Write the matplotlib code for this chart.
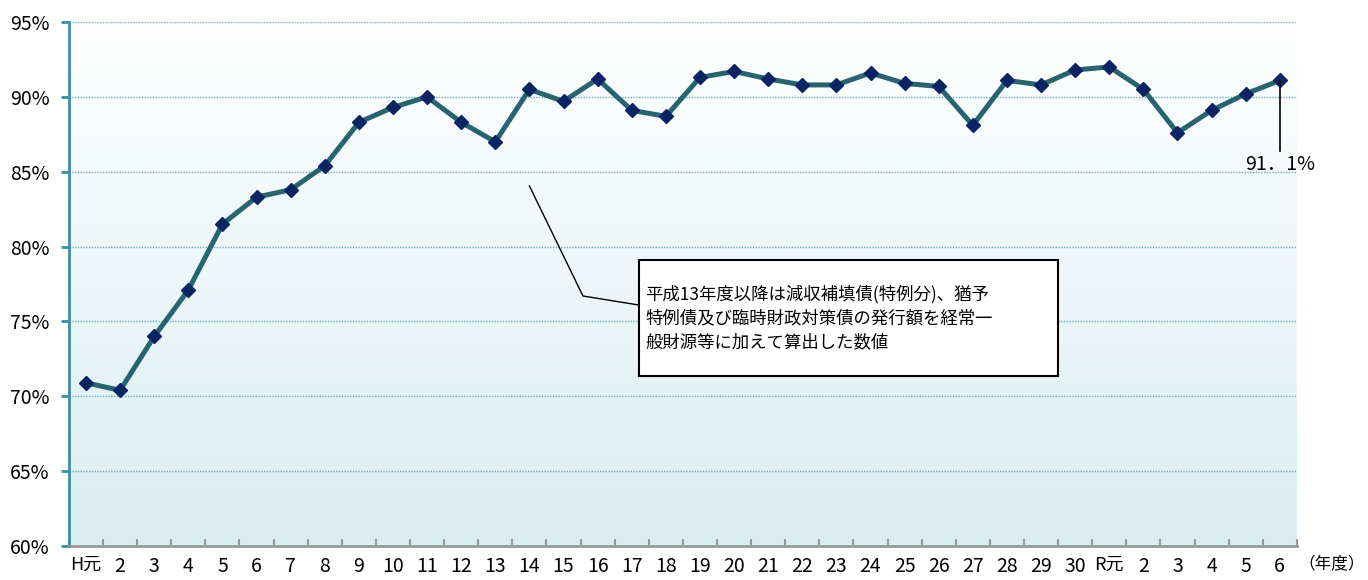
import numpy as np
import matplotlib
matplotlib.use("Agg")
import matplotlib.pyplot as plt
import matplotlib.patches as mpatches
from matplotlib.colors import LinearSegmentedColormap

plt.rcParams["font.family"] = ["Noto Sans CJK JP", "DejaVu Sans"]

# ── data ──────────────────────────────────────────────────────────────────────
LABELS = ["H元"] + [str(i) for i in range(2, 31)] + ["R元"] + [str(i) for i in range(2, 7)]
VALUES = [70.9, 70.4, 74.0, 77.1, 81.5, 83.3, 83.8, 85.4, 88.3, 89.3,
          90.0, 88.3, 87.0, 90.5, 89.7, 91.2, 89.1, 88.7, 91.3, 91.7,
          91.2, 90.8, 90.8, 91.6, 90.9, 90.7, 88.1, 91.1, 90.8, 91.8,
          92.0, 90.5, 87.6, 89.1, 90.2, 91.1]
YTICKS = [60, 65, 70, 75, 80, 85, 90, 95]
NOTE = ("平成13年度以降は減収補填債(特例分)、猶予\n"
        "特例債及び臨時財政対策債の発行額を経常一\n"
        "般財源等に加えて算出した数値")

LINE_C = "#286470"
MARK_C = "#0B2464"
AXIS_C = "#3A8FA3"
GRID_C = "#6AB3C2"

fig = plt.figure(figsize=(13.68, 5.8), dpi=100)
ax = fig.add_axes([0.0504, 0.0586, 0.8976, 0.9034])

x = np.arange(len(VALUES))
ax.set_xlim(-0.5, len(VALUES) - 0.5)
ax.set_ylim(60, 95)

# gradient background: white at top, pale blue at bottom
cmap = LinearSegmentedColormap.from_list("bg", ["#FFFFFF", "#DAEDF2"])
grad = np.linspace(0, 1, 256).reshape(-1, 1)
ax.imshow(grad, cmap=cmap, aspect="auto", origin="upper",
          extent=[-0.5, len(VALUES) - 0.5, 60, 95], zorder=0)

for yv in YTICKS[1:]:
    ax.axhline(yv, color=GRID_C, lw=1.0, ls=(0, (1, 1)), zorder=1)

ax.plot(x, VALUES, color=LINE_C, lw=3.6, zorder=3)
ax.plot(x, VALUES, ls="none", marker="D", ms=7.5, color=MARK_C, zorder=4)

# spines / ticks
for s in ["top", "right"]:
    ax.spines[s].set_visible(False)
ax.spines["left"].set_color(AXIS_C)
ax.spines["left"].set_linewidth(2)
ax.spines["bottom"].set_color("#999999")
ax.spines["bottom"].set_linewidth(2)

ax.set_yticks(YTICKS)
ax.set_yticklabels([f"{v}%" for v in YTICKS], fontsize=14)
ax.tick_params(axis="y", length=6, width=2, color=AXIS_C, pad=8)

ax.set_xticks(np.arange(len(VALUES) + 1) - 0.5)
ax.set_xticklabels([])
ax.tick_params(axis="x", direction="in", length=5, width=1.5, color="#999999")
for i, lab in enumerate(LABELS):
    ax.text(i, 59.35, lab, ha="center", va="top", fontsize=14 if "元" not in lab else 13,
            clip_on=False)
ax.text(len(VALUES) - 0.47, 59.35, "（年度）", ha="left", va="top", fontsize=12)

# note box with leader line
ax.plot([13, 14.57, 16.2], [84.05, 76.7, 76.1], color="black", lw=1, zorder=5)
box = mpatches.Rectangle((639 / 1368, 1 - 376 / 580), 419 / 1368, 116 / 580,
                         transform=fig.transFigure, facecolor="white",
                         edgecolor="black", lw=1.5, zorder=6)
fig.patches.append(box)
fig.text(645 / 1368, 1 - 318 / 580, NOTE, ha="left", va="center", fontsize=12.5,
         linespacing=1.4, zorder=7)

# last value label
ax.plot([35, 35], [VALUES[-1], 86.4], color="black", lw=1.2, zorder=5)
ax.text(35, 86.2, "91．1%", ha="center", va="top", fontsize=14)

fig.savefig("out.png", dpi=100)
